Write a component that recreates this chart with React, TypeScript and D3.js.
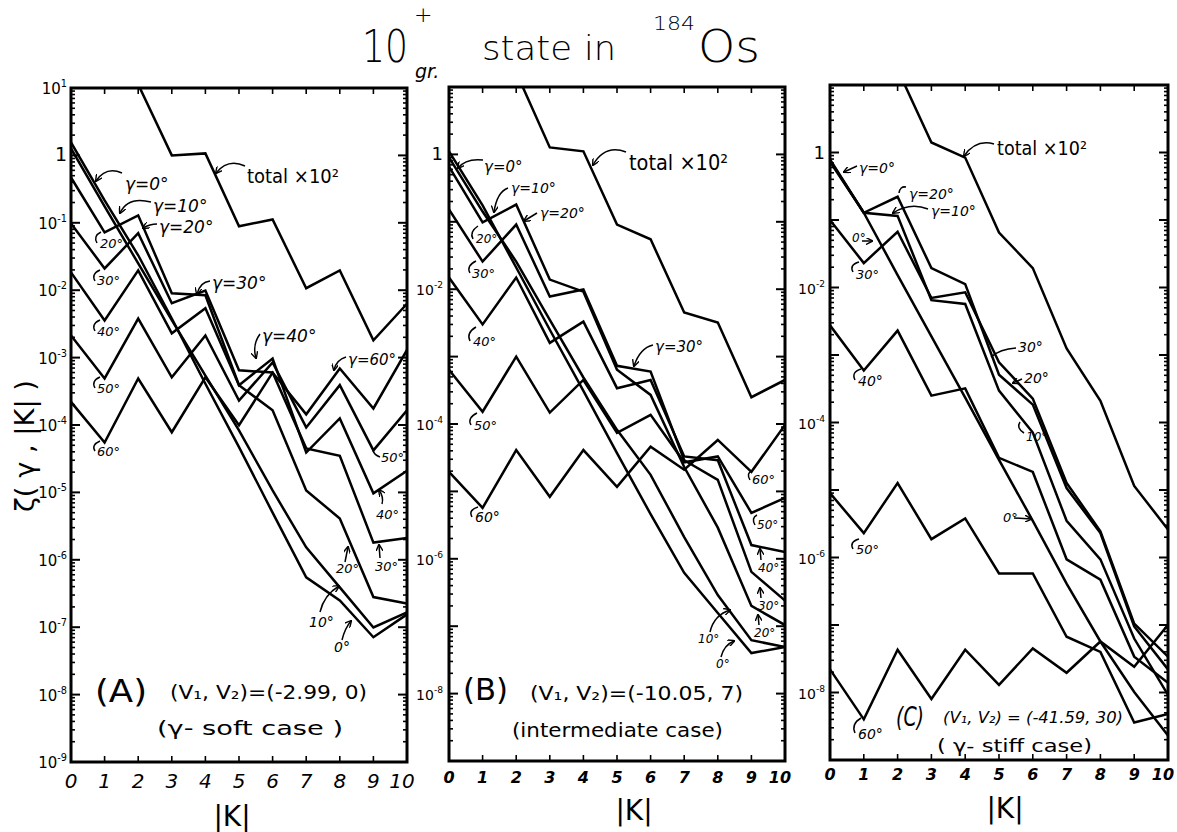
import React from "react";
import * as d3 from "d3";

const FONT = "'DejaVu Sans', 'Liberation Sans', sans-serif";

// |K| values on the horizontal axis
const K = [0, 1, 2, 3, 4, 5, 6, 7, 8, 9, 10];

// (A) gamma-soft case, (V1,V2)=(-2.99,0)
const totalA = [60, 40, 11.3, 1.0, 1.07, 0.089, 0.112, 0.0107, 0.0196, 0.0018, 0.0063];
const g0A = [1.56, 0.215, 0.033, 0.0038, 4.1e-4, 4.7e-5, 5.0e-6, 5.5e-7, 2.5e-7, 7.1e-8, 1.55e-7];
const g10A = [1.27, 0.175, 0.025, 3.6e-3, 5.4e-4, 8.3e-5, 1.07e-5, 1.53e-6, 3.9e-7, 9.9e-8, 1.66e-7];
const g20A = [0.47, 0.072, 0.129, 0.009, 0.0084, 3.9e-4, 1.65e-4, 1.07e-5, 4.1e-6, 2.8e-7, 2.25e-7];
const g30A = [0.098, 0.021, 0.07, 0.0064, 0.0099, 6.5e-4, 6.0e-4, 4.5e-5, 3.5e-5, 1.8e-6, 2.1e-6];
const g40A = [0.0184, 0.00356, 0.0197, 0.00229, 0.0054, 3.9e-4, 9.7e-4, 3.9e-5, 1.25e-4, 9.7e-6, 2.1e-5];
const g50A = [0.00213, 4.9e-4, 0.0038, 5.1e-4, 0.00213, 2.3e-4, 8.5e-4, 9.2e-5, 3.9e-4, 4.2e-5, 1.65e-4];
const g60A = [2.2e-4, 5.5e-5, 4.9e-4, 7.8e-5, 5.1e-4, 9.9e-5, 6.0e-4, 1.44e-4, 6.9e-4, 1.76e-4, 1.3e-3];

// (B) intermediate case, (V1,V2)=(-10.05,7)
const totalB = [40, 30, 16.5, 1.27, 1.11, 0.091, 0.055, 0.0045, 0.0032, 2.5e-4, 4.5e-4];
const g0B = [1.11, 0.175, 0.021, 2.5e-3, 3.1e-4, 3.7e-5, 4.6e-6, 6.2e-7, 1.57e-7, 4.0e-8, 4.9e-8];
const g10B = [0.9, 0.142, 0.0257, 3.5e-3, 4.9e-4, 8.2e-5, 1.76e-5, 2.1e-6, 2.9e-7, 6.2e-8, 4.9e-8];
const g20B = [0.66, 0.098, 0.18, 0.0139, 9.2e-3, 6.4e-4, 2.7e-4, 2.3e-5, 2.9e-6, 2.0e-7, 1.04e-7];
const g30B = [0.152, 0.0257, 0.091, 7.8e-3, 9.9e-3, 7.3e-4, 6.0e-4, 2.9e-5, 1.48e-5, 6.4e-7, 2.4e-7];
const g40B = [0.0149, 3.0e-3, 0.0149, 1.6e-3, 3.3e-3, 3.4e-4, 4.5e-4, 3.3e-5, 2.9e-5, 1.6e-6, 1.26e-6];
const g50B = [6.4e-4, 1.52e-4, 1.0e-3, 1.48e-4, 4.5e-4, 7.4e-5, 1.37e-4, 2.7e-5, 3.3e-5, 4.8e-6, 8.0e-6];
const g60B = [1.95e-5, 5.7e-6, 4.1e-5, 8.3e-6, 4.1e-5, 1.17e-5, 4.6e-5, 2.1e-5, 5.8e-5, 1.95e-5, 9.7e-5];

// (C) gamma-stiff case, (V1,V2)=(-41.59,30)
const totalC = [40, 30, 17, 1.41, 0.84, 0.065, 0.0194, 1.25e-3, 2.1e-4, 1.15e-5, 2.6e-6];
const g0C = [0.79, 0.128, 0.0153, 1.89e-3, 2.34e-4, 2.8e-5, 3.5e-6, 4.1e-7, 5.7e-8, 1.02e-8, 2.3e-9];
const g10C = [0.76, 0.128, 0.115, 6.5e-3, 5.7e-3, 2.97e-4, 7.1e-5, 3.5e-6, 9.4e-7, 6.3e-8, 9.2e-9];
const g20C = [0.73, 0.128, 0.221, 0.0194, 0.0112, 5.1e-4, 1.84e-4, 1.07e-5, 2.3e-6, 9.5e-8, 2.2e-8];
const g30C = [0.1, 0.023, 0.067, 7.0e-3, 8.5e-3, 7.8e-4, 2.26e-4, 1.27e-5, 2.45e-6, 1.05e-7, 3.4e-8];
const g40C = [2.75e-3, 5.9e-4, 2.3e-3, 2.5e-4, 3.2e-4, 3.0e-5, 1.85e-5, 9.4e-7, 4.7e-7, 3.4e-8, 1.39e-8];
const g50C = [9.0e-6, 2.3e-6, 1.27e-5, 1.87e-6, 3.8e-6, 5.8e-7, 5.8e-7, 6.7e-8, 4.0e-8, 3.6e-9, 4.8e-9];
const g60C = [2.2e-8, 4.0e-9, 4.3e-8, 8.0e-9, 4.3e-8, 1.3e-8, 4.5e-8, 1.96e-8, 5.7e-8, 2.4e-8, 1.01e-7];

// decade exponents labelled on the left axis
const yExpA = [1, 0, -1, -2, -3, -4, -5, -6, -7, -8, -9];
const yExpBC = [0, -2, -4, -6, -8];

type Note = { t: string; x: number; y: number; s: number; it?: boolean; w?: number; b?: boolean };

const notesA: Note[] = [
  { t: "γ=0°", x: 125, y: 190, s: 17, it: true },
  { t: "total ×10²", x: 247, y: 183, s: 19, w: 92 },
  { t: "γ=10°", x: 153, y: 212, s: 17, it: true },
  { t: "γ=20°", x: 159, y: 233, s: 17, it: true },
  { t: "20°", x: 100, y: 248, s: 13, it: true },
  { t: "30°", x: 97, y: 285, s: 13, it: true },
  { t: "40°", x: 97, y: 336, s: 13, it: true },
  { t: "50°", x: 97, y: 393, s: 13, it: true },
  { t: "60°", x: 97, y: 456, s: 13, it: true },
  { t: "γ=30°", x: 212, y: 289, s: 17, it: true },
  { t: "γ=40°", x: 262, y: 342, s: 17, it: true },
  { t: "γ=60°", x: 348, y: 365, s: 15, it: true },
  { t: "50°", x: 381, y: 462, s: 13, it: true },
  { t: "40°", x: 376, y: 519, s: 13, it: true },
  { t: "30°", x: 375, y: 571, s: 13, it: true },
  { t: "20°", x: 336, y: 573, s: 13, it: true },
  { t: "10°", x: 309, y: 627, s: 14, it: true },
  { t: "0°", x: 334, y: 652, s: 14, it: true },
  { t: "(A)", x: 95, y: 702, s: 32, w: 52 },
  { t: "(V₁, V₂)=(-2.99, 0)", x: 170, y: 699, s: 19, w: 197 },
  { t: "(γ- soft case )", x: 157, y: 735, s: 20, w: 186 },
];

const leadsA: [string, boolean][] = [
  ["M122,173 Q106,166 96,181", true],
  ["M245,166 Q228,158 216,173", true],
  ["M151,202 Q128,196 120,213", true],
  ["M157,224 Q150,224 143,228", true],
  ["M97,243 Q93,236 101,232", false],
  ["M95,281 Q91,274 100,270", false],
  ["M95,331 Q91,324 100,320", false],
  ["M95,388 Q91,381 100,377", false],
  ["M95,451 Q91,445 100,441", false],
  ["M210,281 Q200,282 197,294", true],
  ["M260,334 Q252,345 256,358", true],
  ["M346,357 Q336,360 334,370", true],
  ["M380,457 Q374,455 373,450", false],
  ["M382,504 Q384,497 379,490", true],
  ["M380,558 L379,545", true],
  ["M345,562 L348,547", true],
  ["M320,612 Q324,595 339,586", true],
  ["M342,640 Q345,628 351,621", true],
];

const notesB: Note[] = [
  { t: "γ=0°", x: 484, y: 172, s: 15, it: true },
  { t: "total ×10²", x: 629, y: 170, s: 21, w: 99 },
  { t: "γ=10°", x: 511, y: 193, s: 14, it: true },
  { t: "γ=20°", x: 540, y: 218, s: 14, it: true },
  { t: "20°", x: 476, y: 243, s: 12, it: true },
  { t: "30°", x: 472, y: 278, s: 13, it: true },
  { t: "40°", x: 473, y: 346, s: 13, it: true },
  { t: "50°", x: 474, y: 430, s: 13, it: true },
  { t: "60°", x: 475, y: 522, s: 14, it: true },
  { t: "γ=30°", x: 655, y: 352, s: 15, it: true },
  { t: "60°", x: 752, y: 484, s: 13, it: true },
  { t: "50°", x: 757, y: 529, s: 12, it: true },
  { t: "40°", x: 758, y: 572, s: 12, it: true },
  { t: "30°", x: 758, y: 610, s: 12, it: true },
  { t: "20°", x: 754, y: 637, s: 12, it: true },
  { t: "10°", x: 698, y: 643, s: 12, it: true },
  { t: "0°", x: 716, y: 668, s: 12, it: true },
  { t: "(B)", x: 463, y: 700, s: 30, w: 45 },
  { t: "(V₁, V₂)=(-10.05, 7)", x: 530, y: 700, s: 20, w: 213 },
  { t: "(intermediate case)", x: 512, y: 737, s: 20, w: 211 },
];

const leadsB: [string, boolean][] = [
  ["M483,160 Q466,158 458,168", true],
  ["M626,152 Q605,144 593,165", true],
  ["M508,188 Q497,192 494,212", true],
  ["M537,213 L524,221", true],
  ["M473,239 Q469,232 478,226", false],
  ["M470,273 Q466,266 476,261", false],
  ["M470,341 Q466,333 476,327", false],
  ["M471,425 Q467,418 477,413", false],
  ["M472,517 Q468,510 478,507", false],
  ["M653,345 Q640,348 634,366", true],
  ["M750,480 Q746,473 752,471", false],
  ["M755,525 Q751,518 757,515", false],
  ["M761,560 L760,549", true],
  ["M761,598 L760,588", true],
  ["M759,625 L758,615", true],
  ["M710,632 Q714,615 730,610", true],
  ["M721,657 Q724,645 734,641", true],
];

const notesC: Note[] = [
  { t: "γ=0°", x: 859, y: 173, s: 14, it: true },
  { t: "total ×10²", x: 997, y: 155, s: 19, w: 90 },
  { t: "γ=20°", x: 909, y: 199, s: 14, it: true },
  { t: "γ=10°", x: 931, y: 216, s: 14, it: true },
  { t: "0°", x: 852, y: 242, s: 12, it: true },
  { t: "30°", x: 856, y: 279, s: 13, it: true },
  { t: "40°", x: 858, y: 386, s: 14, it: true },
  { t: "50°", x: 856, y: 554, s: 13, it: true },
  { t: "60°", x: 858, y: 739, s: 14, it: true },
  { t: "30°", x: 1018, y: 352, s: 14, it: true },
  { t: "20°", x: 1024, y: 383, s: 14, it: true },
  { t: "10°", x: 1026, y: 441, s: 12, it: true },
  { t: "0°", x: 1003, y: 522, s: 13, it: true },
  { t: "(C)", x: 896, y: 726, s: 26, it: true, w: 28 },
  { t: "(V₁, V₂) = (-41.59, 30)", x: 943, y: 723, s: 15, it: true, w: 180 },
  { t: "( γ- stiff case)", x: 937, y: 752, s: 18, w: 155 },
];

const leadsC: [string, boolean][] = [
  ["M857,166 L844,172", true],
  ["M994,144 Q976,139 964,156", true],
  ["M906,187 Q900,186 899,193", false],
  ["M928,209 Q910,202 893,213", true],
  ["M862,241 L872,241", true],
  ["M853,272 Q849,265 859,262", false],
  ["M855,380 Q851,372 861,369", false],
  ["M853,549 Q849,542 859,539", false],
  ["M855,733 Q851,724 861,718", false],
  ["M991,357 Q1000,349 1016,348", false],
  ["M1022,379 L1013,383", true],
  ["M1024,433 Q1016,428 1020,422", false],
  ["M1014,518 L1031,519", true],
];

type PanelCfg = {
  id: string;
  left: number;
  right: number;
  top: number;
  bottom: number;
  series: number[][];
  yExp: number[];
  yLabEnd: number;
  yLabSize: number;
  xLabY: number;
  xLabSize: number;
  xLabBold: boolean;
  kx: number;
  ky: number;
  notes: Note[];
  leads: [string, boolean][];
};

const panels: PanelCfg[] = [
  {
    id: "A", left: 71, right: 407, top: 88, bottom: 762,
    series: [totalA, g0A, g10A, g20A, g30A, g40A, g50A, g60A],
    yExp: yExpA, yLabEnd: 67, yLabSize: 15,
    xLabY: 788, xLabSize: 20, xLabBold: false, kx: 232, ky: 826,
    notes: notesA, leads: leadsA,
  },
  {
    id: "B", left: 449, right: 785, top: 87, bottom: 761,
    series: [totalB, g0B, g10B, g20B, g30B, g40B, g50B, g60B],
    yExp: yExpBC, yLabEnd: 443, yLabSize: 14,
    xLabY: 783, xLabSize: 16, xLabBold: true, kx: 634, ky: 820,
    notes: notesB, leads: leadsB,
  },
  {
    id: "C", left: 830, right: 1168, top: 85, bottom: 760,
    series: [totalC, g0C, g10C, g20C, g30C, g40C, g50C, g60C],
    yExp: yExpBC, yLabEnd: 825, yLabSize: 14,
    xLabY: 780, xLabSize: 16, xLabBold: true, kx: 1005, ky: 818,
    notes: notesC, leads: leadsC,
  },
];

function NoteText({ n }: { n: Note }) {
  return (
    <text
      x={n.x}
      y={n.y}
      fontSize={n.s}
      fontStyle={n.it ? "italic" : "normal"}
      fontWeight={n.b ? "bold" : "normal"}
      textLength={n.w}
      lengthAdjust={n.w ? "spacingAndGlyphs" : undefined}
      fill="#000"
    >
      {n.t}
    </text>
  );
}

function Panel({ p }: { p: PanelCfg }) {
  const x = d3.scaleLinear().domain([0, 10]).range([p.left, p.right]);
  const y = d3.scaleLog().domain([10, 1e-9]).range([p.top, p.bottom]);
  const line = d3
    .line<number>()
    .x((_, i) => x(K[i]))
    .y((v) => y(v));

  const majors = d3.range(-9, 2).map((e) => Math.pow(10, e));
  const minors: number[] = [];
  for (let e = -9; e < 1; e++) for (let m = 2; m <= 9; m++) minors.push(m * Math.pow(10, e));
  const clipId = `clip-${p.id}`;

  return (
    <g>
      <defs>
        <clipPath id={clipId}>
          <rect x={p.left} y={p.top} width={p.right - p.left} height={p.bottom - p.top} />
        </clipPath>
      </defs>

      <g clipPath={`url(#${clipId})`} fill="none" stroke="#000" strokeWidth={2.5} strokeLinejoin="miter">
        {p.series.map((s, i) => (
          <path key={i} d={line(s) || ""} />
        ))}
      </g>

      <g stroke="#000" strokeWidth={2}>
        {majors.map((v, i) => (
          <g key={"M" + i}>
            <line x1={p.left} x2={p.left + 9} y1={y(v)} y2={y(v)} />
            <line x1={p.right - 9} x2={p.right} y1={y(v)} y2={y(v)} />
          </g>
        ))}
      </g>
      <g stroke="#000" strokeWidth={1.6}>
        {minors.map((v, i) => (
          <g key={"m" + i}>
            <line x1={p.left} x2={p.left + 4} y1={y(v)} y2={y(v)} />
            <line x1={p.right - 4} x2={p.right} y1={y(v)} y2={y(v)} />
          </g>
        ))}
        {K.slice(1, 10).map((k) => (
          <g key={"k" + k}>
            <line x1={x(k)} x2={x(k)} y1={p.top} y2={p.top + 6} />
            <line x1={x(k)} x2={x(k)} y1={p.bottom - 6} y2={p.bottom} />
          </g>
        ))}
      </g>

      <rect
        x={p.left}
        y={p.top}
        width={p.right - p.left}
        height={p.bottom - p.top}
        fill="none"
        stroke="#000"
        strokeWidth={3}
      />

      {p.yExp.map((e) => (
        <text
          key={"y" + e}
          x={p.yLabEnd}
          y={y(Math.pow(10, e)) + 6}
          fontSize={p.yLabSize}
          textAnchor="end"
          fill="#000"
        >
          {e === 0 ? (
            <tspan fontSize={p.yLabSize + 4}>1</tspan>
          ) : (
            <>
              <tspan>10</tspan>
              <tspan fontSize={p.yLabSize * 0.65} dy={-7}>
                {e < 0 ? "-" + -e : String(e)}
              </tspan>
            </>
          )}
        </text>
      ))}

      {K.map((k) => (
        <text
          key={"x" + k}
          x={k === 10 ? x(k) - 5 : x(k)}
          y={p.xLabY}
          fontSize={p.xLabSize}
          fontStyle="italic"
          fontWeight={p.xLabBold ? "bold" : "normal"}
          textAnchor="middle"
          fill="#000"
        >
          {k}
        </text>
      ))}
      <text x={p.kx} y={p.ky} fontSize={28} textAnchor="middle" fill="#000">
        |K|
      </text>

      <g fill="none" stroke="#000" strokeWidth={1.5}>
        {p.leads.map(([d, arrow], i) => (
          <path key={"l" + i} d={d} markerEnd={arrow ? "url(#ah)" : undefined} />
        ))}
      </g>
      {p.notes.map((n, i) => (
        <NoteText key={"n" + i} n={n} />
      ))}
    </g>
  );
}

export default function App() {
  return (
    <svg
      width={1177}
      height={832}
      style={{ position: "absolute", left: 0, top: 0, background: "#fff" }}
      fontFamily={FONT}
    >
      <defs>
        <marker
          id="ah"
          viewBox="0 0 8 8"
          refX={7}
          refY={4}
          markerWidth={7}
          markerHeight={7}
          orient="auto"
          markerUnits="userSpaceOnUse"
        >
          <path d="M0,0 L8,4 L0,8" fill="none" stroke="#000" strokeWidth={1.6} />
        </marker>
      </defs>
      <rect x={0} y={0} width={1177} height={832} fill="#fff" />

      {/* title: 10+ ground-band state in 184Os */}
      <g fill="#000" fontWeight={200}>
        <text x={362} y={62} fontSize={44} textLength={46} lengthAdjust="spacingAndGlyphs">10</text>
        <text x={414} y={22} fontSize={22}>+</text>
        <text x={415} y={78} fontSize={19} fontStyle="italic" fontWeight={400}>gr.</text>
        <text x={482} y={60} fontSize={34} textLength={90} lengthAdjust="spacingAndGlyphs">state</text>
        <text x={584} y={60} fontSize={34} textLength={32} lengthAdjust="spacingAndGlyphs">in</text>
        <text x={653} y={30} fontSize={19} textLength={42} lengthAdjust="spacingAndGlyphs">184</text>
        <text x={698} y={62} fontSize={44} textLength={62} lengthAdjust="spacingAndGlyphs">Os</text>
      </g>

      {/* vertical axis title */}
      <text
        transform="translate(34,446) rotate(-90)"
        fontSize={26}
        textAnchor="middle"
        textLength={132}
        lengthAdjust="spacingAndGlyphs"
        fill="#000"
      >
        ζ( γ , |K| )
      </text>

      {panels.map((p) => (
        <Panel key={p.id} p={p} />
      ))}
    </svg>
  );
}
